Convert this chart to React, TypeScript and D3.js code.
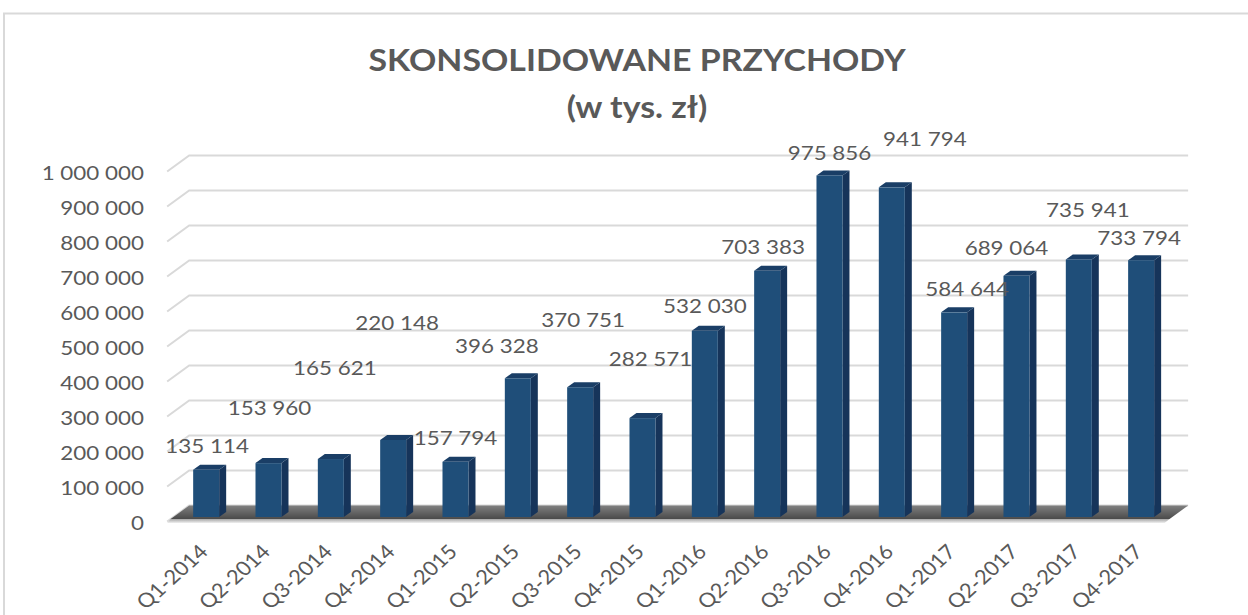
import React, { useRef, useEffect } from 'react';
import * as d3 from 'd3';

const categories = [
  'Q1-2014', 'Q2-2014', 'Q3-2014', 'Q4-2014',
  'Q1-2015', 'Q2-2015', 'Q3-2015', 'Q4-2015',
  'Q1-2016', 'Q2-2016', 'Q3-2016', 'Q4-2016',
  'Q1-2017', 'Q2-2017', 'Q3-2017', 'Q4-2017',
];
const revenue = [
  135114, 153960, 165621, 220148,
  157794, 396328, 370751, 282571,
  532030, 703383, 975856, 941794,
  584644, 689064, 735941, 733794,
];
const yTicks = [0, 100000, 200000, 300000, 400000, 500000, 600000, 700000, 800000, 900000, 1000000];
const titleLines = ['SKONSOLIDOWANE PRZYCHODY', '(w tys. zł)'];

// excel's 3d label placement is uneven, nudge each label from its bar top
const labelNudge: [number, number][] = [
  [1, -24], [1, -56], [4, -92], [4, -117],
  [0, -24], [-21, -33], [3, -68], [8, -60],
  [0, -25], [-4, -24], [0, -23], [33, -49],
  [13, -24], [-10, -28], [9, -50], [-2, -23],
];

const plLocale = d3.formatLocale({ decimal: ',', thousands: '\u00a0', grouping: [3], currency: ['', ' zł'] });
const fmt = plLocale.format(',');

const W = 1248;
const H = 615;
const FONT = 'Lato, "DejaVu Sans", sans-serif';
const TEXT = '#595959';
const STRETCH = 1.12; // the source picture is a bit wider than tall

export default function App() {
  const ref = useRef<SVGSVGElement>(null);

  useEffect(() => {
    const svg = d3.select(ref.current);
    svg.selectAll('*').remove();

    const x = d3
      .scaleBand()
      .domain(categories)
      .range([175, 1172.3])
      .paddingInner(0.583)
      .paddingOuter(0.2915);
    const y = d3.scaleLinear().domain([0, 1000000]).range([517, 167]);

    const wallDx = 22;
    const wallDy = 16;
    const backLift = 11.5; // back wall sits above the bar base
    const barDx = 7;
    const barDy = 5;

    const defs = svg.append('defs');
    const floorGrad = defs
      .append('linearGradient')
      .attr('id', 'floorTop')
      .attr('x1', 0).attr('y1', 0).attr('x2', 0).attr('y2', 1);
    floorGrad.append('stop').attr('offset', '0%').attr('stop-color', '#808080');
    floorGrad.append('stop').attr('offset', '100%').attr('stop-color', '#4a4a4a');
    const edgeGrad = defs
      .append('linearGradient')
      .attr('id', 'floorEdge')
      .attr('x1', 0).attr('y1', 0).attr('x2', 0).attr('y2', 1);
    edgeGrad.append('stop').attr('offset', '0%').attr('stop-color', '#a6a6a6');
    edgeGrad.append('stop').attr('offset', '100%').attr('stop-color', '#f0f0f0');

    svg.append('rect').attr('width', W).attr('height', H).attr('fill', '#fff');
    svg
      .append('rect')
      .attr('x', 4)
      .attr('y', 13.5)
      .attr('width', W + 20)
      .attr('height', H + 20)
      .attr('fill', 'none')
      .attr('stroke', '#d9d9d9')
      .attr('stroke-width', 2);

    // title
    svg
      .selectAll('text.title')
      .data(titleLines)
      .enter()
      .append('text')
      .attr('class', 'title')
      .attr('transform', (_, i) => `translate(637,${71 + i * 47}) scale(1.11,1)`)
      .attr('text-anchor', 'middle')
      .attr('font-family', FONT)
      .attr('font-weight', 'bold')
      .attr('font-size', 30.5)
      .attr('fill', TEXT)
      .text((d) => d);

    const x0 = x(categories[0])! - 26;
    const x1 = x(categories[categories.length - 1])! + x.bandwidth() + 12;

    // gridlines on the back wall + side wall
    svg
      .selectAll('path.grid')
      .data(yTicks)
      .enter()
      .append('path')
      .attr('class', 'grid')
      .attr('d', (d) => {
        const by = y(d) - backLift;
        return `M${x0},${by + wallDy}L${x0 + wallDx},${by}L${x1 + wallDx},${by}`;
      })
      .attr('fill', 'none')
      .attr('stroke', '#d9d9d9')
      .attr('stroke-width', 2);

    // floor
    const fb = y(0) - backLift;
    const ff = y(0) + 2;
    const fShift = ((ff - fb) * wallDx) / wallDy;
    svg
      .append('polygon')
      .attr('points', [
        [x0 + wallDx, fb], [x1 + wallDx, fb], [x1 + wallDx - fShift, ff], [x0 + wallDx - fShift, ff],
      ].map((p) => p.join(',')).join(' '))
      .attr('fill', 'url(#floorTop)');
    svg
      .append('polygon')
      .attr('points', [
        [x0 + wallDx - fShift, ff], [x1 + wallDx - fShift, ff], [x1 + wallDx - fShift - 5, ff + 4], [x0, ff + 4],
      ].map((p) => p.join(',')).join(' '))
      .attr('fill', 'url(#floorEdge)');

    // y axis labels
    svg
      .selectAll('text.ytick')
      .data(yTicks)
      .enter()
      .append('text')
      .attr('class', 'ytick')
      .attr('transform', (d) => `translate(144,${y(d) + 5.5}) scale(${STRETCH},1)`)
      .attr('text-anchor', 'end')
      .attr('dominant-baseline', 'central')
      .attr('font-family', FONT)
      .attr('font-size', 20)
      .attr('fill', TEXT)
      .text((d) => fmt(d));

    const bw = x.bandwidth();
    const bars = svg
      .selectAll('g.bar')
      .data(revenue)
      .enter()
      .append('g')
      .attr('class', 'bar');

    bars
      .append('polygon')
      .attr('points', (d, i) => {
        const l = x(categories[i])! + bw;
        const t = y(d);
        const b = y(0);
        return `${l},${t} ${l + barDx},${t - barDy} ${l + barDx},${b - barDy} ${l},${b}`;
      })
      .attr('fill', '#16345a');
    bars
      .append('polygon')
      .attr('points', (d, i) => {
        const l = x(categories[i])!;
        const t = y(d);
        return `${l},${t} ${l + barDx},${t - barDy} ${l + bw + barDx},${t - barDy} ${l + bw},${t}`;
      })
      .attr('fill', '#1a3e66');
    bars
      .append('rect')
      .attr('x', (_, i) => x(categories[i])!)
      .attr('y', (d) => y(d))
      .attr('width', bw)
      .attr('height', (d) => y(0) - y(d))
      .attr('fill', '#1f4e79');

    // value labels
    svg
      .selectAll('text.val')
      .data(revenue)
      .enter()
      .append('text')
      .attr('class', 'val')
      .attr('transform', (d, i) =>
        `translate(${x(categories[i])! + bw / 2 + labelNudge[i][0]},${y(d) + labelNudge[i][1]}) scale(${STRETCH},1)`)
      .attr('text-anchor', 'middle')
      .attr('dominant-baseline', 'central')
      .attr('font-family', FONT)
      .attr('font-size', 20)
      .attr('fill', TEXT)
      .text((d) => fmt(d));

    // category labels, rotated
    svg
      .selectAll('text.xtick')
      .data(categories)
      .enter()
      .append('text')
      .attr('class', 'xtick')
      .attr('transform', (d) => `translate(${x(d)! + bw / 2 + 3},553) scale(1.1,1) rotate(-45)`)
      .attr('text-anchor', 'end')
      .attr('font-family', FONT)
      .attr('font-size', 20)
      .attr('fill', TEXT)
      .text((d) => d);
  }, []);

  return (
    <svg
      ref={ref}
      width={W}
      height={H}
      style={{ position: 'absolute', left: 0, top: 0, display: 'block' }}
    ></svg>
  );
}
